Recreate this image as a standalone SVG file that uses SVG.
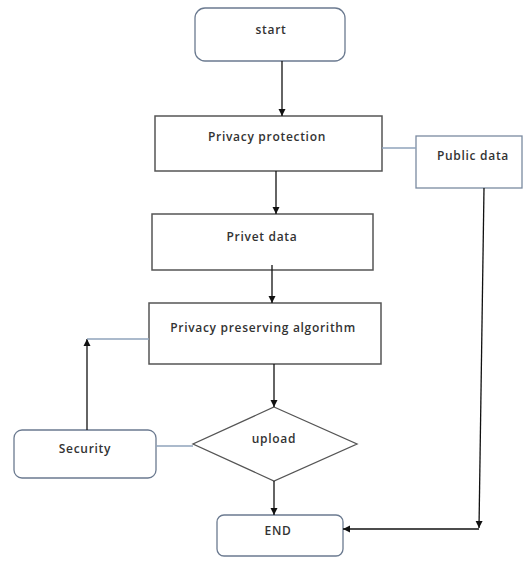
<svg xmlns="http://www.w3.org/2000/svg" width="525" height="561" viewBox="0 0 525 561">
<style>
.bg{fill:#fff}
.rect{fill:#fff;stroke:#555;stroke-width:1.5}
.round{fill:#fff;stroke:#6b7a90;stroke-width:1.3}
.pub{fill:#fff;stroke:#7a8aa0;stroke-width:1.3}
.dia{fill:#fff;stroke:#555;stroke-width:1.3}
.lbl{font-family:"Open Sans","DejaVu Sans",sans-serif;font-size:12px;font-weight:600;fill:#333;text-anchor:middle;letter-spacing:0.7px}
.arr{stroke:#111;stroke-width:1.3;fill:none;marker-end:url(#ah)}
.link{stroke:#8fa3bb;stroke-width:1.5;fill:none}
</style>
<defs>
<marker id="ah" markerWidth="8" markerHeight="8" refX="7" refY="4" orient="auto" markerUnits="userSpaceOnUse">
<path d="M0,0.5 L7,4 L0,7.5 Z" fill="#111"/>
</marker>
</defs>
<rect class="bg" width="525" height="561"/>
<g id="start">
<rect class="round" x="195" y="8" width="150" height="53" rx="10"/>
<text class="lbl" x="271" y="34">start</text>
</g>
<g id="privacy-protection">
<rect class="rect" x="155" y="116" width="227" height="55"/>
<text class="lbl" x="267" y="141">Privacy protection</text>
</g>
<g id="public-data">
<rect class="pub" x="416" y="136" width="106" height="52"/>
<text class="lbl" x="473" y="160">Public data</text>
</g>
<g id="privet-data">
<rect class="rect" x="152" y="214" width="221" height="56"/>
<text class="lbl" x="262" y="241">Privet data</text>
</g>
<g id="privacy-preserving-algorithm">
<rect class="rect" x="149" y="303" width="232" height="61"/>
<text class="lbl" x="263" y="332">Privacy preserving algorithm</text>
</g>
<g id="upload">
<polygon class="dia" points="274,407 357,444 274,481 193,444"/>
<text class="lbl" x="274" y="443">upload</text>
</g>
<g id="security">
<rect class="round" x="14" y="430" width="142" height="48" rx="8"/>
<text class="lbl" x="85" y="453">Security</text>
</g>
<g id="end">
<rect class="round" x="217" y="515" width="126" height="41" rx="7"/>
<text class="lbl" x="278" y="535">END</text>
</g>
<g id="connectors">
<line class="arr" x1="282" y1="61" x2="282" y2="116"/>
<line class="arr" x1="276" y1="171" x2="276" y2="214"/>
<line class="arr" x1="272" y1="265" x2="272" y2="303"/>
<line class="arr" x1="274" y1="364" x2="274" y2="407"/>
<line class="arr" x1="274" y1="481" x2="274" y2="515"/>
<line class="link" x1="382" y1="148" x2="416" y2="148"/>
<line class="arr" x1="484" y1="188" x2="479" y2="528"/>
<line class="arr" x1="479" y1="529" x2="343" y2="529"/>
<line class="link" x1="156" y1="446" x2="193" y2="446"/>
<line class="arr" x1="87" y1="430" x2="87" y2="339"/>
<line class="link" x1="87" y1="339" x2="149" y2="339"/>
</g>
</svg>
